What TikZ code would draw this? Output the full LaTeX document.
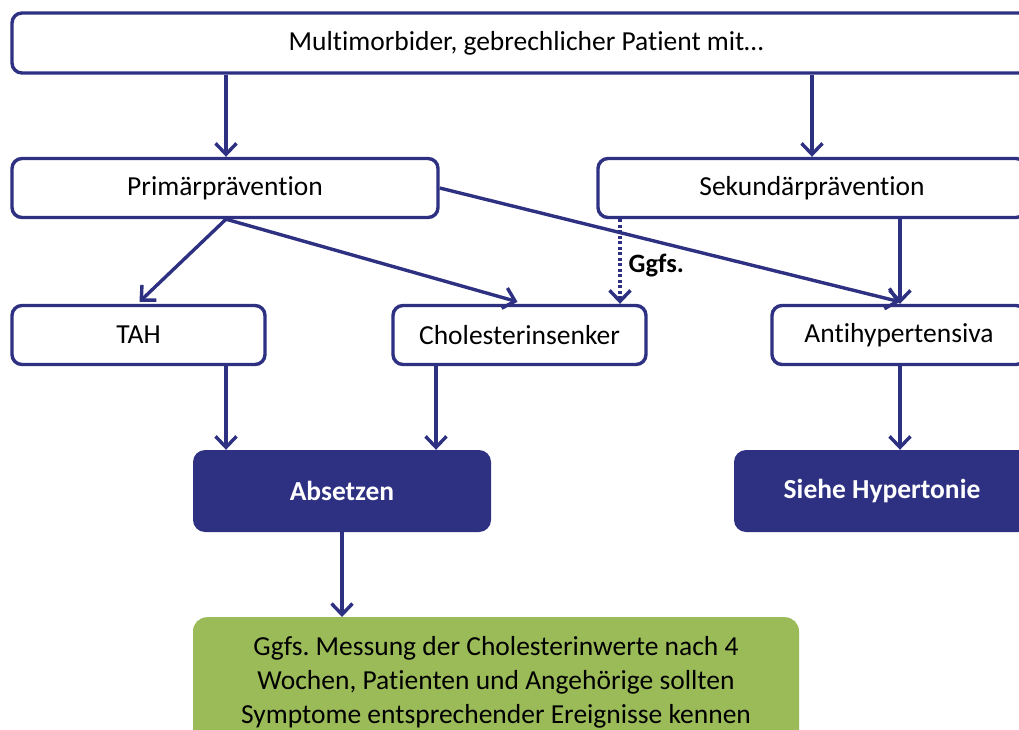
\documentclass[tikz,border=0pt]{standalone}
\usepackage{fontspec}
\setmainfont{Carlito}[Ligatures=NoCommon]
\usetikzlibrary{arrows.meta,calc}
\definecolor{navy}{RGB}{46,48,130}
\definecolor{leaf}{RGB}{155,187,89}
\frenchspacing
\begin{document}
\begin{tikzpicture}[x=1pt,y=-1pt,
  txt/.style={font=\fontsize{27.5}{34}\selectfont},
  box/.style={txt,draw=navy,line width=3.4pt,rounded corners=10pt,fill=white,inner sep=0pt},
  darkbox/.style={fill=navy,rounded corners=12pt,inner sep=0pt,text=white,
    font=\fontsize{27.5}{34}\selectfont\bfseries},
  notebox/.style={fill=leaf,rounded corners=14pt,inner sep=0pt},
  flow/.style={draw=navy,line width=3.4pt,-{Straight Barb[length=11pt,width=21pt,line width=3.4pt]}},
  maybe/.style={flow,dash pattern=on 3pt off 2.5pt}]
\useasboundingbox (0,0) rectangle (1019,730);
\clip (0,0) rectangle (1019,730);

% boxes (centre, width, height in page units)
\node[box,minimum width=1028pt,minimum height=60pt] (top) at (526,43) {Multimorbider, gebrechlicher Patient mit…};
\node[box,minimum width=426pt,minimum height=59pt] (prim) at (225,188) {Primärprävention};
\node[box,minimum width=428pt,minimum height=59pt] (sek) at (812,188) {Sekundärprävention};
\node[box,minimum width=253pt,minimum height=59pt] (tah) at (138.5,335) {TAH};
\node[box,minimum width=253pt,minimum height=59pt] (chol) at (519.5,335) {Cholesterinsenker};
\node[box,minimum width=254pt,minimum height=59pt] (anti) at (899,335) {Antihypertensiva};
\node[darkbox,minimum width=298pt,minimum height=82pt] (abs) at (342,491) {Absetzen};
\node[darkbox,minimum width=296pt,minimum height=82pt] (hyp) at (882,491) {Siehe Hypertonie};
\node[notebox,minimum width=606pt,minimum height=140pt,anchor=north] (note) at (496,617) {};
\node[txt,align=center,anchor=north,inner sep=0pt] (notetext) at (496,636)
  {Ggfs. Messung der Cholesterinwerte nach 4\\Wochen, Patienten und Angehörige sollten\\Symptome entsprechender Ereignisse kennen};

% x positions of the vertical connectors
\coordinate (xl) at (226,0);
\coordinate (xr) at (812,0);
\coordinate (xd) at (620,0);
\coordinate (xc) at (436,0);
\coordinate (xa) at (900,0);

\draw[flow] (top.south -| xl) -- (prim.north -| xl);
\draw[flow] (top.south -| xr) -- (sek.north -| xr);
\draw[flow] (prim.south -| xl) -- ($(tah.north)+(1,-2)$);
\draw[flow] (prim.south -| xl) -- ($(chol.north)+(-2,-2)$);
\draw[flow] (prim.east) -- ($(anti.north -| xa)+(0,-2)$);
\draw[flow] (sek.south -| xa) -- (anti.north -| xa);
\draw[maybe] (sek.south -| xd) -- (chol.north -| xd)
  node[pos=0.55,right=7pt,font=\fontsize{26.5}{30}\selectfont\bfseries,text=black,inner sep=0pt] (ggfs) {Ggfs.};
\draw[flow] (tah.south -| xl) -- (abs.north -| xl);
\draw[flow] (chol.south -| xc) -- (abs.north -| xc);
\draw[flow] (anti.south -| xa) -- (hyp.north -| xa);
\draw[flow] (abs.south) -- (note.north -| abs.south);
\end{tikzpicture}
\end{document}
